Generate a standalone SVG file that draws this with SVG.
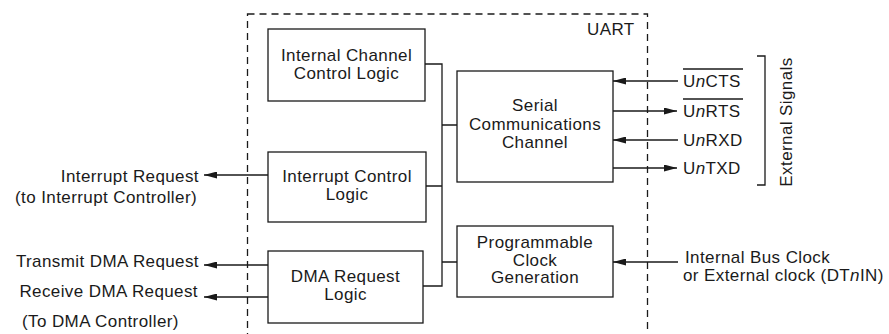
<svg xmlns="http://www.w3.org/2000/svg" width="889" height="334" viewBox="0 0 889 334">
  <defs>
    <marker id="arrow" markerUnits="userSpaceOnUse" markerWidth="13" markerHeight="7" refX="13" refY="3.5" orient="auto">
      <path d="M0,0 L13,3.5 L0,7 Z" fill="#1a1a1a"/>
    </marker>
    <style>
      .box { fill: #ffffff; stroke: #1a1a1a; stroke-width: 1.3; }
      .wire { fill: none; stroke: #1a1a1a; stroke-width: 1.3; }
      .sig { fill: none; stroke: #1a1a1a; stroke-width: 1.3; marker-end: url(#arrow); }
      .frame { fill: none; stroke: #1a1a1a; stroke-width: 1.3; stroke-dasharray: 7 5; }
      text { font-family: "Liberation Sans", Arial, sans-serif; font-size: 17px; letter-spacing: 0.4px; fill: #1a1a1a; }
      .c { text-anchor: middle; }
      .e { text-anchor: end; }
    </style>
  </defs>
  <rect width="889" height="334" fill="#ffffff"/>

  <!-- UART boundary -->
  <g id="uart">
    <rect class="frame" x="247.5" y="14" width="400" height="321"/>
    <text x="587" y="35">UART</text>
  </g>

  <g id="internal-channel-control">
    <rect class="box" x="268" y="29" width="157" height="72"/>
    <text class="c" x="346.5" y="61">Internal Channel</text>
    <text class="c" x="346.5" y="79">Control Logic</text>
  </g>

  <g id="interrupt-control">
    <rect class="box" x="268" y="152" width="158" height="70"/>
    <text class="c" x="347" y="182">Interrupt Control</text>
    <text class="c" x="347" y="200">Logic</text>
  </g>

  <g id="dma-request">
    <rect class="box" x="268" y="251" width="155" height="72"/>
    <text class="c" x="345.5" y="282">DMA Request</text>
    <text class="c" x="345.5" y="300">Logic</text>
  </g>

  <g id="serial-channel">
    <rect class="box" x="457" y="71" width="156" height="111"/>
    <text class="c" x="535" y="111">Serial</text>
    <text class="c" x="535" y="129.5">Communications</text>
    <text class="c" x="535" y="148">Channel</text>
  </g>

  <g id="clock-generation">
    <rect class="box" x="457" y="226" width="156" height="71"/>
    <text class="c" x="535" y="248">Programmable</text>
    <text class="c" x="535" y="265.5">Clock</text>
    <text class="c" x="535" y="283">Generation</text>
  </g>

  <!-- internal bus and external signal lines -->
  <g id="connectors">
    <path class="wire" d="M425,64 H442 V286 H423 M426,186 H442 M442,125 H457 M442,262 H457"/>
    <line class="sig" x1="268" y1="175" x2="204" y2="175"/>
    <line class="sig" x1="268" y1="265" x2="204" y2="265"/>
    <line class="sig" x1="268" y1="297" x2="204" y2="297"/>
    <line class="sig" x1="678" y1="81" x2="613" y2="81"/>
    <line class="sig" x1="613" y1="111" x2="677" y2="111"/>
    <line class="sig" x1="678" y1="140" x2="613" y2="140"/>
    <line class="sig" x1="613" y1="168" x2="677" y2="168"/>
    <line class="sig" x1="678" y1="262" x2="613" y2="262"/>
    <path class="wire" d="M757,56 H765 V185 H757"/>
  </g>

  <g id="left-labels">
    <text class="e" x="199" y="182">Interrupt Request</text>
    <text class="e" x="197" y="203">(to Interrupt Controller)</text>
    <text class="e" x="199" y="267">Transmit DMA Request</text>
    <text class="e" x="198" y="297">Receive DMA Request</text>
    <text x="22" y="327">(To DMA Controller)</text>
  </g>

  <g id="signal-labels">
    <text x="683" y="87">U<tspan font-style="italic">n</tspan>CTS</text>
    <line class="wire" x1="683" y1="69" x2="743" y2="69"/>
    <text x="683" y="117">U<tspan font-style="italic">n</tspan>RTS</text>
    <line class="wire" x1="683" y1="99" x2="743" y2="99"/>
    <text x="683" y="146">U<tspan font-style="italic">n</tspan>RXD</text>
    <text x="683" y="174">U<tspan font-style="italic">n</tspan>TXD</text>
    <text transform="translate(792,122) rotate(-90)" class="c">External Signals</text>
    <text x="685" y="262.5">Internal Bus Clock</text>
    <text x="683" y="281">or External clock (DT<tspan font-style="italic">n</tspan>IN)</text>
  </g>
</svg>
